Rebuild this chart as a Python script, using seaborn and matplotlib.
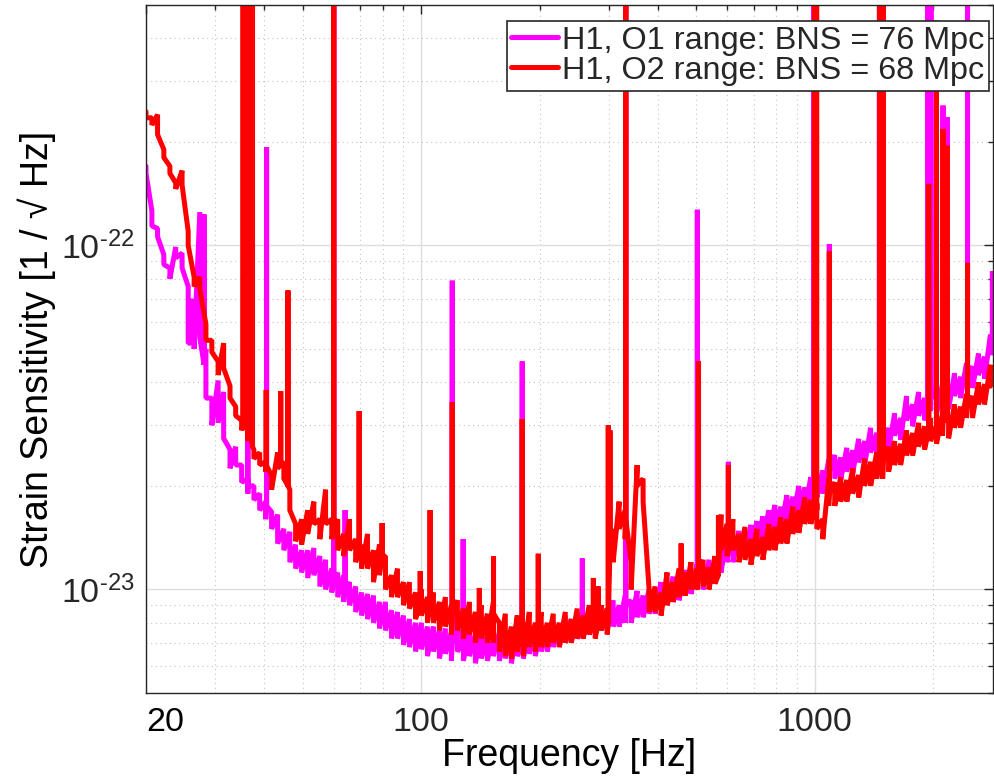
import numpy as np
import pandas as pd
import matplotlib
matplotlib.use("Agg")
import matplotlib.pyplot as plt
import seaborn as sns
from matplotlib.ticker import FixedLocator, FixedFormatter, LogLocator, NullFormatter

# ---------------- data (ASD in units of 1e-23 / sqrt(Hz)) ----------------
# frequency bins; at each bin the trace spans from an upper to a lower value
freq_hz = [20.0, 20.7, 21.4, 22.2, 23.0, 23.8, 24.7, 25.6, 26.5, 27.4, 28.4, 29.4, 30.5, 31.5,
           32.7, 33.8, 35.0, 36.3, 37.6, 38.9, 40.3, 41.7, 43.2, 44.8, 46.4, 48.0, 49.7, 51.5,
           53.4, 55.3, 57.2, 59.3, 61.4, 63.6, 65.8, 68.2, 70.6, 73.1, 75.7, 78.4, 81.2, 84.1,
           87.1, 90.2, 93.4, 96.8, 100.2, 103.8, 107.5, 111.3, 115.3, 119.4, 123.7, 128.1, 132.7,
           137.4, 142.3, 147.4, 152.6, 158.1, 163.7, 169.6, 175.6, 181.9, 188.4, 195.1, 202.0,
           209.3, 216.7, 224.5, 232.5, 240.8, 249.3, 258.2, 267.4, 277.0, 286.9, 297.1, 307.7,
           318.6, 330.0, 341.8, 354.0, 366.6, 379.7, 393.2, 407.2, 421.8, 436.8, 452.4, 468.5,
           485.2, 502.5, 520.5, 539.0, 558.2, 578.2, 598.8, 620.1, 642.2, 665.2, 688.9, 713.4,
           738.9, 765.2, 792.5, 820.8, 850.1, 880.4, 911.8, 944.3, 978.0, 1013, 1049, 1086, 1125,
           1165, 1207, 1250, 1294, 1340, 1388, 1438, 1489, 1542, 1597, 1654, 1713, 1774, 1838,
           1903, 1971, 2041, 2114, 2190, 2268, 2349, 2432, 2519, 2609, 2702, 2798]

o1_upper = [17.0, 12.6, 11.2, 9.4, 8.6, 9.9, 9.5, 7.6, 6.6, 12.5, 5.0, 3.6, 4.05, 3.75,
            2.55, 2.6, 2.3, 2.1, 2.0, 1.9, 1.8, 1.68, 1.65, 1.5, 1.47, 1.35, 1.3, 1.3,
            1.32, 1.25, 1.22, 1.15, 1.12, 1.1, 1.05, 1.02, 0.98, 0.97, 0.96, 0.92, 0.92, 0.87,
            0.86, 0.84, 0.82, 0.8, 0.8, 0.78, 0.78, 0.76, 0.77, 0.75, 0.78, 0.76, 0.77,
            0.74, 0.76, 0.74, 0.76, 0.75, 0.76, 0.74, 0.77, 0.75, 0.78, 0.76, 0.79,
            0.77, 0.81, 0.79, 0.84, 0.82, 0.86, 0.84, 0.88, 0.86, 0.9, 0.88, 0.93,
            0.9, 0.96, 0.93, 0.99, 0.96, 1.0, 0.98, 1.05, 1.03, 1.09, 1.07, 1.14,
            1.12, 1.18, 1.16, 1.22, 1.2, 1.32, 1.42, 1.4, 1.48, 1.47, 1.54, 1.58,
            1.63, 1.7, 1.76, 1.74, 1.88, 1.86, 2.0, 1.98, 2.12, 2.15, 2.22, 2.38, 2.46,
            2.42, 2.58, 2.54, 2.74, 2.7, 2.95, 2.85, 3.0, 2.95, 3.25, 3.15, 3.65, 3.45, 3.75,
            3.6, 3.85, 3.75, 3.95, 3.85, 4.25, 4.15, 4.55, 4.45, 4.85, 4.75, 5.5]

o1_lower = [16.2, 11.4, 10.6, 8.8, 8.0, 9.2, 8.6, 5.2, 5.0, 5.4, 3.6, 3.0, 3.05, 2.75,
            2.25, 2.3, 2.05, 1.9, 1.82, 1.7, 1.6, 1.5, 1.36, 1.3, 1.2, 1.15, 1.12, 1.08,
            1.1, 1.02, 1.0, 0.98, 0.95, 0.92, 0.9, 0.86, 0.84, 0.82, 0.8, 0.77, 0.76, 0.72,
            0.72, 0.69, 0.68, 0.66, 0.67, 0.64, 0.66, 0.63, 0.65, 0.62, 0.66, 0.62, 0.64,
            0.61, 0.63, 0.62, 0.64, 0.62, 0.63, 0.61, 0.64, 0.63, 0.65, 0.64, 0.66,
            0.66, 0.68, 0.68, 0.7, 0.7, 0.72, 0.72, 0.74, 0.74, 0.76, 0.76, 0.78,
            0.78, 0.8, 0.8, 0.83, 0.83, 0.85, 0.85, 0.88, 0.9, 0.92, 0.93, 0.96,
            0.97, 1.0, 1.0, 1.03, 1.04, 1.12, 1.2, 1.2, 1.25, 1.26, 1.3, 1.35,
            1.4, 1.44, 1.5, 1.5, 1.6, 1.6, 1.7, 1.7, 1.82, 1.85, 1.9, 2.02, 2.1,
            2.08, 2.2, 2.18, 2.34, 2.3, 2.5, 2.45, 2.58, 2.55, 2.8, 2.72, 3.1, 2.98, 3.2,
            3.1, 3.3, 3.25, 3.4, 3.35, 3.65, 3.6, 3.9, 3.85, 4.2, 4.1, 4.8]

o2_upper = [24.5, 23.5, 24.0, 19.0, 17.0, 15.2, 16.5, 11.0, 8.1, 8.1, 5.9, 5.3, 4.6, 5.2,
            3.9, 3.4, 3.1, 2.9, 2.55, 2.5, 2.35, 2.15, 2.5, 2.35, 1.95, 1.55, 1.6, 1.7,
            1.8, 1.6, 1.95, 1.6, 1.6, 1.45, 1.6, 1.4, 1.35, 1.45, 1.3, 1.35, 1.25, 1.1,
            1.15, 1.05, 1.05, 0.98, 1.0, 0.95, 0.98, 0.92, 0.95, 0.9, 0.93, 0.88, 0.92,
            0.86, 0.9, 0.85, 0.92, 0.8, 0.85, 0.78, 0.84, 0.8, 0.86, 0.8, 0.86,
            0.8, 0.85, 0.8, 0.86, 0.82, 0.88, 0.84, 0.9, 0.84, 0.9, 0.88, 1.5,
            1.8, 1.7, 1.2, 2.3, 2.1, 1.0, 1.02, 0.98, 1.12, 1.05, 1.15, 1.12,
            1.2, 1.15, 1.22, 1.16, 1.25, 1.65, 1.55, 1.6, 1.45, 1.52, 1.4, 1.5,
            1.42, 1.55, 1.52, 1.62, 1.6, 1.74, 1.7, 1.85, 1.82, 1.78, 1.6, 2.1, 2.05,
            2.12, 2.08, 2.25, 2.15, 2.4, 2.35, 2.5, 2.45, 2.6, 2.7, 2.65, 2.9, 2.85, 3.05,
            2.98, 3.15, 3.08, 3.25, 3.2, 3.45, 3.4, 3.7, 3.65, 4.0, 3.95, 4.5]

o2_lower = [23.5, 22.4, 21.0, 18.0, 16.2, 14.6, 15.0, 10.0, 7.6, 7.5, 5.3, 4.9, 4.2, 4.4,
            3.6, 3.2, 2.9, 2.7, 2.4, 2.3, 2.2, 1.95, 2.25, 2.1, 1.7, 1.38, 1.35, 1.45,
            1.55, 1.4, 1.55, 1.4, 1.3, 1.25, 1.3, 1.2, 1.15, 1.15, 1.05, 1.1, 1.0, 0.95,
            0.95, 0.9, 0.88, 0.82, 0.84, 0.8, 0.8, 0.76, 0.78, 0.74, 0.76, 0.72, 0.74,
            0.7, 0.72, 0.7, 0.7, 0.66, 0.64, 0.63, 0.66, 0.64, 0.68, 0.66, 0.68,
            0.68, 0.7, 0.68, 0.7, 0.7, 0.72, 0.72, 0.74, 0.72, 0.76, 0.74, 1.2,
            1.5, 1.4, 1.0, 2.0, 1.8, 0.86, 0.86, 0.84, 0.9, 0.92, 0.95, 0.96,
            1.0, 1.0, 1.02, 1.0, 1.04, 1.3, 1.25, 1.3, 1.2, 1.22, 1.18, 1.25,
            1.22, 1.3, 1.3, 1.36, 1.36, 1.45, 1.46, 1.55, 1.55, 1.5, 1.4, 1.75, 1.75,
            1.8, 1.8, 1.9, 1.85, 2.0, 2.0, 2.1, 2.1, 2.2, 2.3, 2.3, 2.45, 2.45, 2.6,
            2.55, 2.7, 2.65, 2.8, 2.75, 2.95, 2.95, 3.15, 3.15, 3.45, 3.45, 3.9]

# narrow lines: (frequency Hz, level at line foot, level at line peak)
o1_lines = [(26.0, 5.2, 7.0), (28.1, 4.5, 12.3), (36.3, 2.0, 15.9), (40.5, 1.75, 19.3),
            (60.0, 1.05, 60), (64.1, 1.0, 1.7), (120.0, 0.7, 7.9), (127.9, 0.7, 1.4),
            (180.7, 0.7, 4.6), (256.9, 0.78, 1.23), (331.3, 0.9, 60), (503.5, 1.1, 12.7),
            (603.8, 1.3, 2.35), (995, 2.0, 60), (1090, 2.2, 10.1), (1461, 2.8, 60),
            (1940, 3.5, 60), (1975, 3.6, 60), (2120, 3.8, 25.5), (2170, 3.8, 23.6),
            (2447, 4.2, 60), (2830, 5.4, 8.4)]

o2_lines = [(35.3, 3.0, 60), (35.7, 3.0, 60), (36.3, 2.9, 5.0), (36.9, 2.8, 60),
            (37.3, 2.6, 60), (40.4, 2.3, 3.8), (44.0, 2.3, 3.77), (45.9, 2.0, 7.4),
            (60.0, 1.5, 60), (69.6, 1.3, 3.3), (79.6, 1.25, 1.56), (99.5, 0.9, 1.13),
            (105.4, 0.9, 1.7), (120.0, 0.85, 3.5), (140.6, 0.85, 1.01), (152.8, 0.85, 1.25),
            (180.7, 0.8, 3.13), (198.5, 0.75, 1.27), (274, 0.8, 1.08), (282, 0.8, 1.02),
            (299, 0.8, 3.0), (302, 1.3, 2.9), (331.3, 1.6, 60), (458, 1.0, 1.36),
            (507, 1.1, 4.6), (569.7, 1.1, 1.64), (603.8, 1.3, 2.3), (1000, 1.75, 60),
            (1012, 1.7, 60), (1090, 1.9, 9.6), (1465, 2.4, 60), (1495, 2.35, 60),
            (1950, 2.9, 15.1), (2040, 3.0, 45), (2120, 3.1, 21.8), (2175, 3.1, 19.5),
            (2447, 3.4, 8.9)]

series_labels = ["H1, O1 range: BNS = 76 Mpc", "H1, O2 range: BNS = 68 Mpc"]
series_colors = ["#FF00FF", "#FF0000"]
x_ticks = [20, 100, 1000]
x_tick_labels = ["20", "100", "1000"]
y_ticks = [1e-23, 1e-22]
y_tick_labels = [r"$10^{\text{-}23}$", r"$10^{\text{-}22}$"]


def build(freqs, upper, lower, lines, label):
    f, v = [], []
    for fi, hi, lo in zip(freqs, upper, lower):
        f += [fi, fi]
        v += [hi, lo]
    for lf, lo, hi in lines:
        f += [lf, lf, lf]
        v += [lo, hi, lo]
    f = np.array(f, dtype=float)
    v = np.array(v, dtype=float)
    order = np.argsort(f, kind="stable")
    return pd.DataFrame({"freq": f[order], "asd": v[order] * 1e-23, "series": label})


df = pd.concat([build(freq_hz, o1_upper, o1_lower, o1_lines, series_labels[0]),
                build(freq_hz, o2_upper, o2_lower, o2_lines, series_labels[1])],
               ignore_index=True)

# ---------------- style ----------------
sns.set_style("white")
plt.rcParams["font.family"] = ["Liberation Sans", "DejaVu Sans"]
plt.rcParams["mathtext.fontset"] = "custom"
plt.rcParams["mathtext.rm"] = "Liberation Sans"
plt.rcParams["mathtext.it"] = "Liberation Sans"
plt.rcParams["mathtext.default"] = "regular"

fig = plt.figure(figsize=(9.94, 7.77), dpi=100)
ax = fig.add_axes([146 / 994, 1 - 693 / 777, 847 / 994, 688 / 777])

sns.lineplot(data=df, x="freq", y="asd", hue="series", hue_order=series_labels,
             palette=dict(zip(series_labels, series_colors)), estimator=None, sort=False,
             linewidth=3.6, solid_joinstyle="bevel", ax=ax)

ax.set_xscale("log")
ax.set_yscale("log")
ax.set_xlim(20, 2840)
ax.set_ylim(5e-24, 5e-22)

ax.xaxis.set_major_locator(FixedLocator(x_ticks))
ax.xaxis.set_major_formatter(FixedFormatter(x_tick_labels))
ax.xaxis.set_minor_locator(LogLocator(base=10, subs=np.arange(2, 10)))
ax.xaxis.set_minor_formatter(NullFormatter())
ax.yaxis.set_major_locator(FixedLocator(y_ticks))
ax.yaxis.set_major_formatter(FixedFormatter(y_tick_labels))
ax.yaxis.set_minor_locator(LogLocator(base=10, subs=np.arange(2, 10)))
ax.yaxis.set_minor_formatter(NullFormatter())

ax.grid(which="major", color="#dedede", linestyle="-", linewidth=1.0)
ax.grid(which="minor", color="#c2c2c2", linestyle=(0, (1, 3.2)), linewidth=0.8)
ax.set_axisbelow(True)

for s in ax.spines.values():
    s.set_visible(True)
    s.set_color("#262626")
    s.set_linewidth(1.0)

ax.tick_params(axis="both", which="both", direction="in", top=True, right=True,
               color="#262626", labelcolor="#262626", labelsize=24.5)
ax.tick_params(axis="both", which="major", length=6.5, width=1)
ax.tick_params(axis="both", which="minor", length=3.6, width=1)
ax.tick_params(axis="x", which="major", pad=10)
ax.tick_params(axis="y", which="major", pad=8)

xt = ax.get_xticklabels()
xt[0].set_horizontalalignment("left")
xt[0].set_color("black")
xt[0].set_x(0)

ax.set_xlabel("Frequency [Hz]", fontsize=27, labelpad=0, color="black")
ax.set_ylabel("Strain Sensitivity [1 / \u221a Hz]", fontsize=27, labelpad=4, color="black")

handles, labels = ax.get_legend_handles_labels()
if ax.get_legend() is not None:
    ax.get_legend().remove()
leg = ax.legend(handles, labels, loc="upper right", bbox_to_anchor=(0.995, 0.977),
                borderaxespad=0, fontsize=23.3, frameon=True, fancybox=False, framealpha=1,
                edgecolor="#262626", borderpad=0.15, labelspacing=0.0, handletextpad=0.1,
                handlelength=1.45)
leg.get_frame().set_linewidth(1.2)
for h in leg.get_lines():
    h.set_linewidth(3.6)

fig.savefig("out.png", dpi=100)
